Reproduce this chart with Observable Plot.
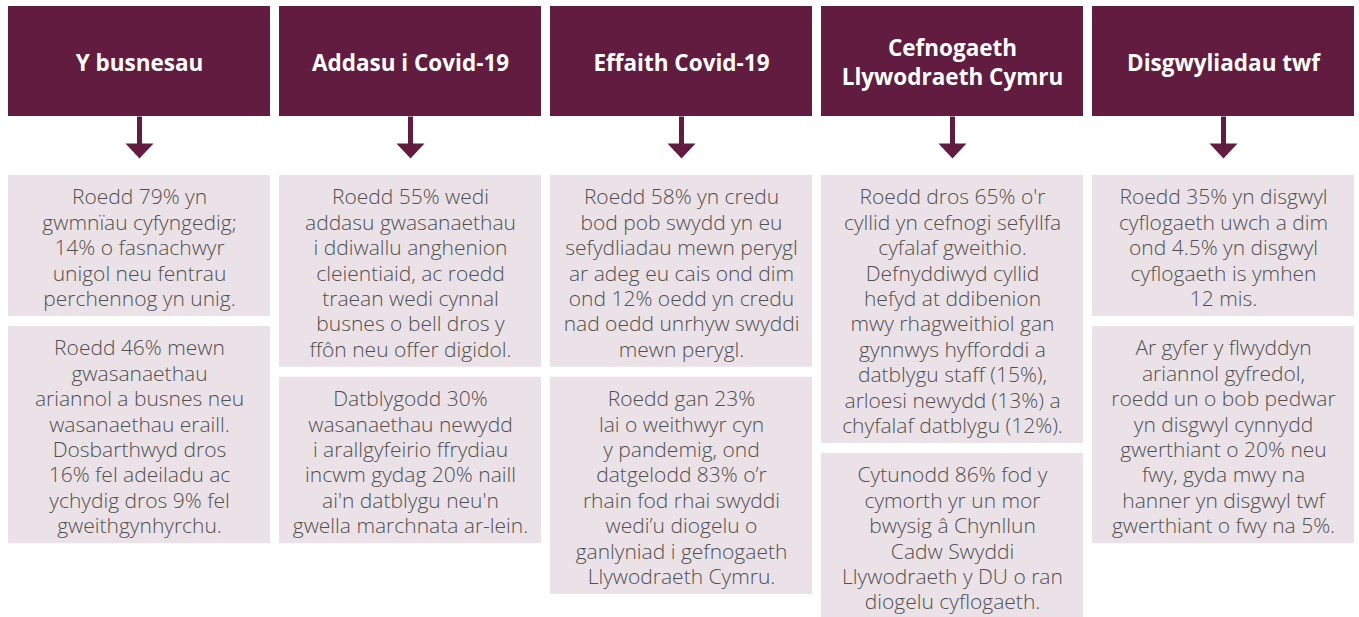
<!DOCTYPE html>
<html>
<head>
<meta charset="utf-8">
<script src="https://cdn.jsdelivr.net/npm/d3@7"></script>
<script src="https://cdn.jsdelivr.net/npm/@observablehq/plot@0.6"></script>
<style>
  html, body { margin: 0; padding: 0; background: #ffffff; }
  #chart svg { display: block; }
</style>
</head>
<body>
<div id="chart"></div>
<script>
// ---- Data ----
const headers = [
  "Y busnesau",
  "Addasu i Covid-19",
  "Effaith Covid-19",
  "Cefnogaeth\nLlywodraeth Cymru",
  "Disgwyliadau twf"
];

const topTexts = [
  "Roedd 79% yn\ngwmnïau cyfyngedig;\n14% o fasnachwyr\nunigol neu fentrau\nperchennog yn unig.",
  "Roedd 55% wedi\naddasu gwasanaethau\ni ddiwallu anghenion\ncleientiaid, ac roedd\ntraean wedi cynnal\nbusnes o bell dros y\nffôn neu offer digidol.",
  "Roedd 58% yn credu\nbod pob swydd yn eu\nsefydliadau mewn perygl\nar adeg eu cais ond dim\nond 12% oedd yn credu\nnad oedd unrhyw swyddi\nmewn perygl.",
  "Roedd dros 65% o'r\ncyllid yn cefnogi sefyllfa\ncyfalaf gweithio.\nDefnyddiwyd cyllid\nhefyd at ddibenion\nmwy rhagweithiol gan\ngynnwys hyfforddi a\ndatblygu staff (15%),\narloesi newydd (13%) a\nchyfalaf datblygu (12%).",
  "Roedd 35% yn disgwyl\ncyflogaeth uwch a dim\nond 4.5% yn disgwyl\ncyflogaeth is ymhen\n12 mis."
];

const bottomTexts = [
  "Roedd 46% mewn\ngwasanaethau\nariannol a busnes neu\nwasanaethau eraill.\nDosbarthwyd dros\n16% fel adeiladu ac\nychydig dros 9% fel\ngweithgynhyrchu.",
  "Datblygodd 30%\nwasanaethau newydd\ni arallgyfeirio ffrydiau\nincwm gydag 20% naill\nai'n datblygu neu'n\ngwella marchnata ar-lein.",
  "Roedd gan 23%\nlai o weithwyr cyn\ny pandemig, ond\ndatgelodd 83% o’r\nrhain fod rhai swyddi\nwedi’u diogelu o\nganlyniad i gefnogaeth\nLlywodraeth Cymru.",
  "Cytunodd 86% fod y\ncymorth yr un mor\nbwysig â Chynllun\nCadw Swyddi\nLlywodraeth y DU o ran\ndiogelu cyflogaeth.",
  "Ar gyfer y flwyddyn\nariannol gyfredol,\nroedd un o bob pedwar\nyn disgwyl cynnydd\ngwerthiant o 20% neu\nfwy, gyda mwy na\nhanner yn disgwyl twf\ngwerthiant o fwy na 5%."
];

// ---- Layout (derived from line counts) ----
const W = 1359, H = 617;
const MAROON = "#621c40", PINK = "#ebe2e7", GREY = "#505050";
const headTop = 6, headBottom = 116, arrowTip = 158, boxStart = 175;
const lineH = 25.4, boxPad = 14, boxGap = 10;
const bodySize = 21, headSize = 22.5;

const header = headers.map(h => ({h, y1: headTop, y2: headBottom, ym: (headTop + headBottom) / 2}));

const boxes = headers.flatMap((h, i) => {
  let y = boxStart;
  return [topTexts[i], bottomTexts[i]].map(t => {
    const n = t.split("\n").length;
    const r = {h, t, y1: y, y2: y + n * lineH + boxPad};
    r.ym = (r.y1 + r.y2) / 2 + 1;
    y = r.y2 + boxGap;
    return r;
  });
});

const arrows = headers.map(h => ({h, y: headBottom, len: arrowTip - headBottom}));

const arrowShape = {
  draw(context, l) {
    const head = 15, hw = 14, sw = 2.5;
    context.moveTo(-sw, 0);
    context.lineTo(sw, 0);
    context.lineTo(sw, -(l - head));
    context.lineTo(hw, -(l - head));
    context.lineTo(0, -l);
    context.lineTo(-hw, -(l - head));
    context.lineTo(-sw, -(l - head));
    context.closePath();
  }
};

const FONT = "'Open Sans', sans-serif";

const chart = Plot.plot({
  width: W,
  height: H,
  margin: 0,
  x: {type: "band", domain: headers, range: [7, 1355], paddingInner: 0.035, paddingOuter: 0, axis: null},
  y: {type: "linear", domain: [0, H], range: [0, H], axis: null},
  length: {type: "identity"},
  style: {background: "#ffffff", fontFamily: FONT},
  marks: [
    Plot.barY(header, {x: "h", y1: "y1", y2: "y2", fill: MAROON, inset: 0}),
    Plot.text(header, {x: "h", y: "ym", text: "h", fill: "#ffffff", fontSize: headSize, fontWeight: "bold", lineHeight: 29 / headSize, fontFamily: FONT}),
    Plot.vector(arrows, {x: "h", y: "y", length: "len", rotate: 180, anchor: "start", shape: arrowShape, fill: MAROON, stroke: "none"}),
    Plot.barY(boxes, {x: "h", y1: "y1", y2: "y2", fill: PINK, inset: 0}),
    Plot.text(boxes, {x: "h", y: "ym", text: "t", fill: GREY, fontSize: bodySize, fontWeight: 300, lineHeight: lineH / bodySize, fontFamily: FONT})
  ]
});

document.getElementById("chart").appendChild(chart);
</script>
</body>
</html>
